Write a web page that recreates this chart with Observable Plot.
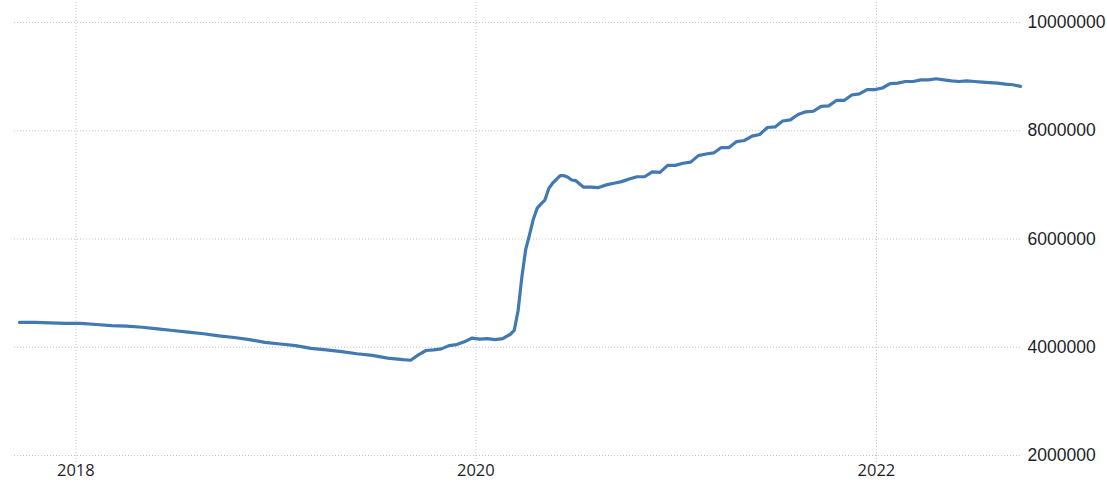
<!DOCTYPE html>
<html><head><meta charset="utf-8">
<script src="https://cdn.jsdelivr.net/npm/d3@7"></script>
<script src="https://cdn.jsdelivr.net/npm/@observablehq/plot@0.6"></script>
<style>body{margin:0;background:#fff}#chart svg{display:block}</style>
</head><body><div id="chart"></div>
<script>
const dates = [
"2017-09-20","2017-10-18","2017-11-15","2017-12-13","2018-01-10","2018-02-07","2018-03-07","2018-04-04",
"2018-05-02","2018-05-30","2018-06-27","2018-07-25","2018-08-22","2018-09-19","2018-10-17","2018-11-14",
"2018-12-12","2019-01-09","2019-02-06","2019-03-06","2019-04-03","2019-05-01","2019-05-29","2019-06-26",
"2019-07-24","2019-08-21","2019-09-04","2019-09-18","2019-10-02","2019-10-16","2019-10-30","2019-11-13",
"2019-11-27","2019-12-11","2019-12-25","2020-01-08","2020-01-22","2020-02-05","2020-02-19","2020-03-04",
"2020-03-11","2020-03-18","2020-03-25","2020-04-01","2020-04-08","2020-04-15","2020-04-22","2020-04-29",
"2020-05-06","2020-05-13","2020-05-20","2020-05-27","2020-06-03","2020-06-10","2020-06-17","2020-06-24",
"2020-07-01","2020-07-15","2020-07-29","2020-08-12","2020-08-26","2020-09-09","2020-09-23","2020-10-07",
"2020-10-21","2020-11-04","2020-11-18","2020-12-02","2020-12-16","2020-12-30","2021-01-13","2021-01-27",
"2021-02-10","2021-02-24","2021-03-10","2021-03-24","2021-04-07","2021-04-21","2021-05-05","2021-05-19",
"2021-06-02","2021-06-16","2021-06-30","2021-07-14","2021-07-28","2021-08-11","2021-08-25","2021-09-08",
"2021-09-22","2021-10-06","2021-10-20","2021-11-03","2021-11-17","2021-12-01","2021-12-15","2021-12-29",
"2022-01-12","2022-01-26","2022-02-09","2022-02-23","2022-03-09","2022-03-23","2022-04-06","2022-04-20",
"2022-05-04","2022-05-18","2022-06-01","2022-06-15","2022-06-29","2022-07-13","2022-07-27","2022-08-10",
"2022-08-24","2022-09-07","2022-09-21"
];
const values = [
4460000,4460000,4450000,4440000,4440000,4420000,4400000,4390000,
4370000,4340000,4310000,4280000,4250000,4210000,4180000,4140000,
4090000,4060000,4030000,3980000,3950000,3920000,3880000,3850000,
3800000,3770000,3760000,3860000,3940000,3950000,3970000,4030000,
4050000,4100000,4170000,4150000,4160000,4140000,4160000,4240000,
4310000,4670000,5300000,5810000,6080000,6370000,6570000,6650000,
6720000,6930000,7030000,7100000,7170000,7170000,7140000,7090000,
7080000,6960000,6960000,6950000,7000000,7030000,7060000,7110000,
7150000,7150000,7240000,7230000,7360000,7360000,7400000,7420000,
7540000,7570000,7590000,7690000,7690000,7800000,7820000,7900000,
7930000,8060000,8070000,8180000,8200000,8300000,8350000,8360000,
8450000,8460000,8560000,8560000,8660000,8680000,8760000,8760000,
8790000,8870000,8880000,8910000,8910000,8940000,8940000,8960000,
8940000,8920000,8910000,8920000,8910000,8900000,8890000,8880000,
8860000,8850000,8820000
];
const yTicks = [2000000, 4000000, 6000000, 8000000, 10000000];
const xTickYears = ["2018", "2020", "2022"];

const data = dates.map((d, i) => ({date: new Date(d), value: values[i]}));
const xTicks = xTickYears.map(y => new Date(y + "-01-01"));

const chart = Plot.plot({
  width: 1107, height: 482,
  marginLeft: 14, marginRight: 87, marginTop: 22, marginBottom: 27,
  style: {background: "#fff", color: "#1e1e2a"},
  x: {type: "utc", domain: [new Date("2017-09-11"), new Date("2022-09-21")]},
  y: {domain: [2000000, 10000000]},
  marks: [
    Plot.gridY(yTicks, {stroke: "#c4c4c4", strokeOpacity: 1, strokeDasharray: "1,2"}),
    Plot.ruleX(xTicks, {stroke: "#c4c4c4", strokeOpacity: 1, strokeDasharray: "1,2", insetTop: -20, insetBottom: -7}),
    Plot.axisY(yTicks, {anchor: "right", tickSize: 0, tickPadding: 7, tickFormat: d => String(d), fontSize: 17.5, fontFamily: "Liberation Sans", label: null}),
    Plot.axisX(xTicks, {anchor: "bottom", tickSize: 0, tickPadding: 9, tickFormat: d3.utcFormat("%Y"), fontSize: 16.5, fontFamily: "Open Sans", label: null}),
    Plot.line(data, {x: "date", y: "value", stroke: "#4279b0", strokeWidth: 3.2, strokeLinejoin: "round"})
  ]
});
document.getElementById("chart").append(chart);
</script>
</body></html>
